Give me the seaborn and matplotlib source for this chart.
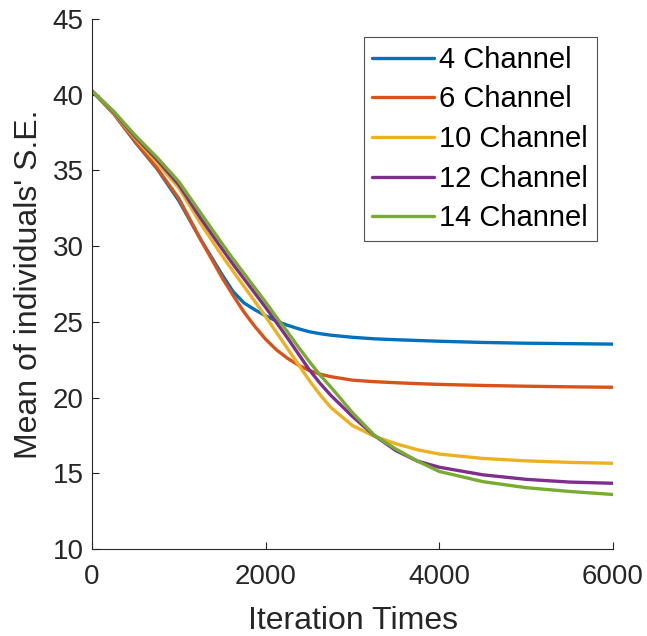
import matplotlib
matplotlib.use("Agg")
import matplotlib.pyplot as plt
import numpy as np
import pandas as pd
import seaborn as sns

# Iteration checkpoints
iterations = [0, 250, 500, 750, 1000, 1250, 1500, 1625, 1750, 1875, 2000, 2125,
              2250, 2375, 2500, 2625, 2750, 3000, 3250, 3500, 3750, 4000, 4500,
              5000, 5500, 6000]

# Mean standard error of the individuals for each channel count
se_4ch = [40.25, 38.75, 36.85, 35.10, 33.00, 30.45, 28.10, 27.00, 26.25, 25.80, 25.40, 25.05,
          24.78, 24.55, 24.35, 24.22, 24.12, 23.98, 23.88, 23.82, 23.77, 23.72, 23.64,
          23.59, 23.56, 23.53]
se_6ch = [40.25, 38.75, 36.90, 35.15, 33.15, 30.45, 27.90, 26.75, 25.65, 24.70, 23.85, 23.15,
          22.60, 22.15, 21.80, 21.55, 21.38, 21.15, 21.05, 20.98, 20.92, 20.87, 20.80,
          20.75, 20.71, 20.68]
se_10ch = [40.25, 38.80, 37.10, 35.50, 33.85, 31.50, 29.35, 28.35, 27.35, 26.35, 25.35, 24.30,
           23.25, 22.20, 21.15, 20.20, 19.35, 18.15, 17.45, 16.95, 16.55, 16.27, 15.98,
           15.82, 15.72, 15.66]
se_12ch = [40.25, 38.85, 37.20, 35.70, 34.05, 31.85, 29.80, 28.80, 27.85, 26.90, 25.95, 24.95,
           23.95, 22.90, 21.85, 20.95, 20.15, 18.75, 17.50, 16.50, 15.80, 15.40, 14.90,
           14.60, 14.42, 14.34]
se_14ch = [40.25, 38.90, 37.30, 35.85, 34.26, 32.20, 30.15, 29.15, 28.20, 27.25, 26.30, 25.30,
           24.35, 23.35, 22.40, 21.50, 20.70, 19.00, 17.52, 16.60, 15.80, 15.12, 14.45,
           14.05, 13.80, 13.60]

labels = ["4 Channel", "6 Channel", "10 Channel", "12 Channel", "14 Channel"]
series = [se_4ch, se_6ch, se_10ch, se_12ch, se_14ch]
colors = ["#0072BD", "#D95319", "#EDB120", "#7E2F8E", "#77AC30"]

x_ticks = [0, 2000, 4000, 6000]
y_ticks = [10, 15, 20, 25, 30, 35, 40, 45]

df = pd.concat(
    [pd.DataFrame({"Iteration": iterations, "SE": s, "Channel": lab})
     for s, lab in zip(series, labels)],
    ignore_index=True,
)

sns.set_theme(style="ticks")
plt.rcParams["font.family"] = ["Liberation Sans", "DejaVu Sans"]
plt.rcParams["axes.edgecolor"] = "#262626"
plt.rcParams["xtick.color"] = "#262626"
plt.rcParams["ytick.color"] = "#262626"

fig = plt.figure(figsize=(6.47, 6.36), dpi=100)
ax = fig.add_axes([92 / 647, 1 - 549 / 636, (613 - 92) / 647, (549 - 19) / 636])

sns.lineplot(data=df, x="Iteration", y="SE", hue="Channel",
             palette=dict(zip(labels, colors)), linewidth=2.4,
             ax=ax, legend=False, sort=False)

ax.set_xlim(0, 6000)
ax.set_ylim(10, 45)
ax.set_xticks(x_ticks)
ax.set_yticks(y_ticks)
ax.tick_params(direction="in", length=5, width=0.8, labelsize=20,
               labelcolor="#262626")
ax.tick_params(axis="x", pad=11)
ax.tick_params(axis="y", pad=6)
for side in ("top", "right"):
    ax.spines[side].set_visible(False)
for side in ("left", "bottom"):
    ax.spines[side].set_linewidth(0.8)

ax.set_xlabel("Iteration Times", fontsize=23, color="#262626", labelpad=11)
ax.set_ylabel("Mean of individuals' S.E.", fontsize=23, color="#262626", labelpad=6)

handles = [plt.Line2D([], [], color=c, linewidth=2.4) for c in colors]
leg = fig.legend(handles, labels, loc="upper right",
                 bbox_to_anchor=(597 / 647, 1 - 37 / 636),
                 bbox_transform=fig.transFigure,
                 fontsize=21, frameon=True, fancybox=False,
                 handlelength=2.1, handletextpad=0.2, labelspacing=0.4,
                 borderpad=0.3, borderaxespad=0)
leg.get_frame().set_edgecolor("#262626")
leg.get_frame().set_linewidth(0.8)
for t in leg.get_texts():
    t.set_color("black")

fig.savefig("out.png", dpi=100)
